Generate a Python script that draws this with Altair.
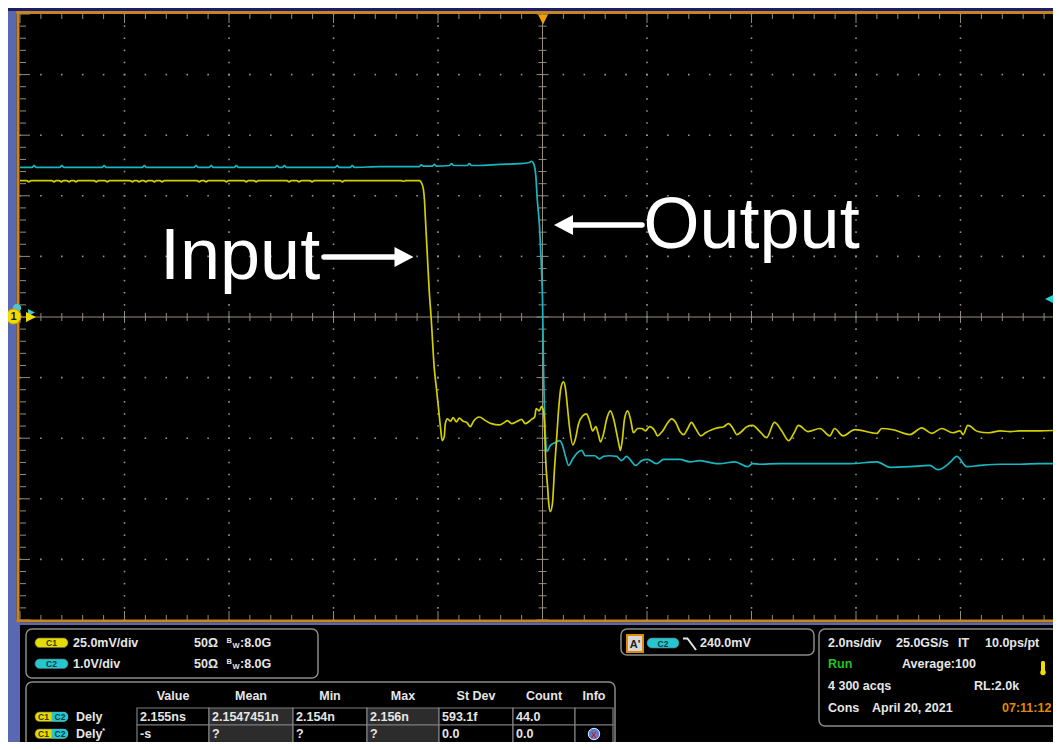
import altair as alt
import numpy as np
import pandas as pd

# ---------------- waveform data: time in ns, level in screen divisions ----------------
input_trace = [
    (-10.00, 2.25),
    (-9.87, 2.25), (-9.83, 2.23), (-9.79, 2.25),
    (-9.39, 2.25), (-9.35, 2.23), (-9.31, 2.25),
    (-9.25, 2.25), (-9.21, 2.23), (-9.17, 2.25),
    (-9.10, 2.25), (-9.06, 2.23), (-9.02, 2.25),
    (-8.97, 2.25), (-8.93, 2.23), (-8.89, 2.25),
    (-8.58, 2.25), (-8.54, 2.23), (-8.50, 2.25),
    (-8.37, 2.25), (-8.33, 2.23), (-8.29, 2.25),
    (-7.89, 2.25), (-7.85, 2.23), (-7.81, 2.25),
    (-7.76, 2.25), (-7.72, 2.23), (-7.68, 2.25),
    (-7.63, 2.25), (-7.59, 2.23), (-7.55, 2.25),
    (-7.47, 2.25), (-7.43, 2.23), (-7.39, 2.25),
    (-7.32, 2.25), (-7.28, 2.23), (-7.24, 2.25),
    (-6.61, 2.25), (-6.57, 2.23), (-6.53, 2.25),
    (-6.48, 2.25), (-6.44, 2.23), (-6.40, 2.25),
    (-6.09, 2.25), (-6.05, 2.23), (-6.01, 2.25),
    (-5.71, 2.25), (-5.67, 2.23), (-5.63, 2.25),
    (-5.52, 2.25), (-5.48, 2.23), (-5.44, 2.25),
    (-4.89, 2.25), (-4.85, 2.23), (-4.81, 2.25),
    (-4.70, 2.25), (-4.66, 2.23), (-4.62, 2.25),
    (-4.45, 2.25), (-4.41, 2.23), (-4.37, 2.25),
    (-3.87, 2.25), (-3.83, 2.23), (-3.79, 2.25),
    (-2.70, 2.25), (-2.66, 2.24), (-2.62, 2.25),
    (-2.36, 2.25), (-2.32, 2.22), (-2.28, 2.11), (-2.26, 1.94), (-2.24, 1.61),
    (-2.22, 1.28), (-2.20, 0.95), (-2.17, 0.46), (-2.13, -0.03), (-2.07, -0.86),
    (-2.03, -1.18), (-1.99, -1.51), (-1.95, -1.84), (-1.92, -2.04), (-1.88, -1.97),
    (-1.86, -1.76), (-1.82, -1.68), (-1.76, -1.72), (-1.71, -1.66), (-1.65, -1.73),
    (-1.59, -1.67), (-1.52, -1.72), (-1.45, -1.74), (-1.38, -1.81), (-1.32, -1.72),
    (-1.21, -1.65), (-1.09, -1.71), (-0.98, -1.76), (-0.82, -1.78), (-0.73, -1.74),
    (-0.67, -1.71), (-0.59, -1.76), (-0.50, -1.73), (-0.40, -1.69), (-0.33, -1.76),
    (-0.21, -1.69), (-0.15, -1.65), (-0.12, -1.51), (-0.06, -1.55), (-0.02, -1.48),
    (0.02, -1.55), (0.04, -1.84), (0.06, -2.34), (0.10, -2.83), (0.12, -3.08),
    (0.15, -3.21), (0.19, -3.08), (0.23, -2.50), (0.27, -2.01), (0.31, -1.51),
    (0.35, -1.18), (0.40, -1.07), (0.44, -1.18), (0.48, -1.51), (0.52, -1.84),
    (0.58, -2.11), (0.63, -2.01), (0.69, -1.76), (0.77, -1.63), (0.84, -1.60),
    (0.90, -1.71), (0.96, -1.88), (1.02, -1.81), (1.07, -1.94), (1.11, -2.06),
    (1.17, -1.92), (1.23, -1.68), (1.30, -1.55), (1.36, -1.68), (1.42, -1.92),
    (1.48, -2.17), (1.49, -2.20), (1.53, -2.01), (1.57, -1.68), (1.63, -1.55),
    (1.69, -1.71), (1.74, -1.91), (1.82, -1.84), (1.90, -1.84), (1.97, -1.88),
    (2.05, -1.81), (2.15, -1.88), (2.20, -1.96), (2.30, -1.88), (2.40, -1.74),
    (2.47, -1.68), (2.55, -1.74), (2.63, -1.89), (2.70, -1.94), (2.78, -1.84),
    (2.85, -1.74), (2.93, -1.84), (3.03, -1.96), (3.12, -1.91), (3.24, -1.86),
    (3.35, -1.83), (3.47, -1.81), (3.56, -1.76), (3.64, -1.83), (3.72, -1.94),
    (3.81, -1.89), (3.91, -1.81), (4.02, -1.79), (4.16, -1.89), (4.29, -1.99),
    (4.44, -1.74), (4.58, -1.88), (4.71, -2.04), (4.81, -1.92), (4.90, -1.79),
    (5.08, -1.89), (5.31, -1.84), (5.50, -1.96), (5.59, -1.84), (5.75, -1.96),
    (5.98, -1.86), (6.40, -1.92), (6.49, -1.84), (6.71, -1.86), (7.03, -1.94),
    (7.26, -1.83), (7.45, -1.92), (7.64, -1.84), (7.85, -1.91), (7.99, -1.88),
    (8.05, -1.94), (8.14, -1.79), (8.33, -1.89), (8.53, -1.91), (8.76, -1.88),
    (8.95, -1.89), (9.14, -1.88), (9.52, -1.88), (10.00, -1.86),
]

output_trace = [
    (-10.00, 2.47),
    (-9.77, 2.47), (-9.73, 2.50), (-9.69, 2.47),
    (-9.24, 2.47), (-9.20, 2.50), (-9.16, 2.47),
    (-8.43, 2.47), (-8.39, 2.50), (-8.35, 2.47),
    (-7.66, 2.47), (-7.62, 2.50), (-7.58, 2.47),
    (-6.67, 2.47), (-6.63, 2.50), (-6.59, 2.47),
    (-6.38, 2.47), (-6.34, 2.50), (-6.30, 2.47),
    (-5.90, 2.47), (-5.86, 2.50), (-5.82, 2.47),
    (-5.12, 2.47), (-5.08, 2.50), (-5.04, 2.47),
    (-4.98, 2.47), (-4.94, 2.50), (-4.90, 2.47),
    (-3.97, 2.47), (-3.93, 2.50), (-3.89, 2.47),
    (-3.68, 2.47), (-3.64, 2.50), (-3.60, 2.47),
    (-3.12, 2.48),
    (-2.36, 2.48), (-2.32, 2.51), (-2.28, 2.49),
    (-2.11, 2.49), (-2.07, 2.52), (-2.03, 2.49),
    (-1.78, 2.50), (-1.74, 2.53), (-1.70, 2.50),
    (-1.44, 2.50), (-1.40, 2.53), (-1.36, 2.50),
    (-1.21, 2.50), (-0.82, 2.52), (-0.44, 2.53), (-0.25, 2.55), (-0.21, 2.57),
    (-0.17, 2.53), (-0.13, 2.35), (-0.10, 1.94), (-0.06, 1.53), (-0.04, 1.20),
    (-0.02, 0.79), (0.00, 0.30), (0.02, -0.86), (0.06, -2.01), (0.08, -2.22),
    (0.15, -2.12), (0.25, -2.07), (0.33, -2.04), (0.38, -2.11), (0.44, -2.30),
    (0.50, -2.45), (0.58, -2.34), (0.67, -2.24), (0.75, -2.20), (0.82, -2.29),
    (1.00, -2.29), (1.09, -2.34), (1.17, -2.30), (1.28, -2.29), (1.42, -2.30),
    (1.51, -2.37), (1.61, -2.30), (1.71, -2.39), (1.78, -2.45), (1.90, -2.37),
    (2.01, -2.35), (2.18, -2.42), (2.32, -2.35), (2.63, -2.35), (2.82, -2.39),
    (3.01, -2.37), (3.20, -2.40), (3.39, -2.42), (3.68, -2.39), (3.93, -2.47),
    (4.02, -2.42), (4.16, -2.43), (4.54, -2.42), (5.31, -2.42), (5.88, -2.42),
    (6.40, -2.39), (6.65, -2.48), (7.03, -2.47), (7.41, -2.45), (7.57, -2.52),
    (7.80, -2.40), (7.93, -2.30), (8.12, -2.47), (8.37, -2.45), (8.76, -2.43),
    (9.14, -2.43), (9.52, -2.42), (10.00, -2.42),
]

# ---------------- readout texts ----------------
channel_scales = ["25.0mV/div", "1.0V/div"]
channel_names = ["C1", "C2"]
channel_imped = ["50\u03a9", "50\u03a9"]
channel_bw = [":8.0G", ":8.0G"]
table_headers = ["Value", "Mean", "Min", "Max", "St Dev", "Count", "Info"]
table_row_names = ["Dely", "Dely"]
table_row1 = ["2.155ns", "2.1547451n", "2.154n", "2.156n", "593.1f", "44.0", ""]
table_row2 = ["-s", "?", "?", "?", "0.0", "0.0", ""]
trigger_level = "240.0mV"
timebase_lines = [
    [("2.0ns/div", 828), ("25.0GS/s", 896), ("IT", 958), ("10.0ps/pt", 985)],
    [("Run", 828), ("Average:100", 902)],
    [("4 300 acqs", 828), ("RL:2.0k", 974)],
    [("Cons", 828), ("April 20, 2021", 872), ("07:11:12", 1002)],
]

# ---------------- styling ----------------
FONT = "Liberation Sans"
WHITE = "#e6e6e6"
BORDER = "#8a8a8a"
YELLOW = "#d2cf00"
CYAN = "#18b6c0"
GRID = "#969696"
RETICLE = "#958d7b"
ORANGE = "#c8841e"
BLUE = "#5a68b2"
NAVY = "#1b1f6a"

W, H = 1045, 734
XS = alt.Scale(domain=[-10, 10], range=[12, 1057], nice=False, zero=False)
YS = alt.Scale(domain=[-5, 5], range=[612, 6], nice=False, zero=False)
PX_PER_NS = 1045 / 20.0
PX_PER_DIV = 606 / 10.0

ONE = pd.DataFrame({"k": [0]})


def P(v):
    return v - 8  # page pixel -> chart pixel


def rect(x1, y1, x2, y2, fill=None, stroke=None, sw=1.0, r=0, **extra):
    kw = {}
    if fill is None:
        kw["fill"] = "#000000"
        kw["fillOpacity"] = 0
    else:
        kw["fill"] = fill
    if stroke is not None:
        kw["stroke"] = stroke
        kw["strokeWidth"] = sw
    else:
        kw["strokeWidth"] = 0
    if r:
        kw["cornerRadius"] = r
    kw.update(extra)
    return alt.Chart(ONE).mark_rect(**kw).encode(
        x=alt.value(P(x1)), x2=alt.value(P(x2)), y=alt.value(P(y1)), y2=alt.value(P(y2)))


def text(s, x, y, size=12.5, color=WHITE, weight="bold", align="left",
         baseline="alphabetic", font=FONT):
    return alt.Chart(ONE).mark_text(
        text=s, fontSize=size, fontWeight=weight, color=color, align=align,
        baseline=baseline, font=font).encode(x=alt.value(P(x)), y=alt.value(P(y)))


def seg(x1, y1, x2, y2, color, w, cap="butt"):
    return alt.Chart(ONE).mark_rule(color=color, strokeWidth=w, strokeCap=cap).encode(
        x=alt.value(P(x1)), x2=alt.value(P(x2)), y=alt.value(P(y1)), y2=alt.value(P(y2)))


def symbol(x, y, shape, size, fill, stroke=None, sw=0.0):
    kw = dict(shape=shape, size=size, filled=True, fill=fill, opacity=1)
    if stroke:
        kw.update(stroke=stroke, strokeWidth=sw)
    else:
        kw.update(strokeWidth=0)
    return alt.Chart(ONE).mark_point(**kw).encode(x=alt.value(P(x)), y=alt.value(P(y)))


def pill(x1, y1, x2, y2, fill, label, label_color):
    cx, cy = (x1 + x2) / 2, (y1 + y2) / 2
    return [rect(x1, y1, x2, y2, fill=fill, stroke="#6a6a6a", sw=0.6, r=(y2 - y1) / 2),
            text(label, cx, cy + 0.5, size=8.5, color=label_color, align="center",
                 baseline="middle")]


# ---------------- graticule ----------------
minor_t = np.round(np.arange(-10, 10.0001, 0.4), 4)
minor_v = np.round(np.arange(-5, 5.0001, 0.2), 4)


def is_major(val, step):
    return abs(val / step - round(val / step)) < 1e-6


dots = []
for t in [-8, -6, -4, -2, 2, 4, 6, 8]:
    for v in minor_v:
        dots.append((t, v))
for v in [-4, -3, -2, -1, 1, 2, 3, 4]:
    for t in minor_t:
        dots.append((t, v))
dots_df = pd.DataFrame(dots, columns=["t", "v"])

segs = [(-10, 10, 0, 0), (0, 0, -5, 5)]
for t in minor_t:
    L = 9 if is_major(t, 2) else 5
    segs.append((t, t, 5, 5 - L / PX_PER_DIV))
    segs.append((t, t, -5, -5 + L / PX_PER_DIV))
    h = (6 if is_major(t, 2) else 4) / PX_PER_DIV
    segs.append((t, t, -h, h))
for v in minor_v:
    L = 10 if is_major(v, 1) else 6
    segs.append((-10, -10 + L / PX_PER_NS, v, v))
    R = 12 if is_major(v, 1) else 9
    segs.append((10, 10 - R / PX_PER_NS, v, v))
    w = (6 if is_major(v, 1) else 4) / PX_PER_NS
    segs.append((-w, w, v, v))
segs_df = pd.DataFrame(segs, columns=["t", "t2", "v", "v2"])

X = alt.X("t:Q", scale=XS, axis=None)
Y = alt.Y("v:Q", scale=YS, axis=None)

layers = []
layers.append(alt.Chart(dots_df).mark_square(size=2.5, color=GRID, opacity=1).encode(x=X, y=Y))
layers.append(alt.Chart(segs_df).mark_rule(color=RETICLE, strokeWidth=1).encode(
    x=X, x2="t2:Q", y=Y, y2="v2:Q"))

# ---------------- traces ----------------
in_df = pd.DataFrame(input_trace, columns=["t", "v"])
out_df = pd.DataFrame(output_trace, columns=["t", "v"])
layers.append(alt.Chart(out_df).mark_line(color=CYAN, strokeWidth=1.7, interpolate="monotone")
              .encode(x=X, y=Y))
layers.append(alt.Chart(in_df).mark_line(color=YELLOW, strokeWidth=1.7, interpolate="monotone")
              .encode(x=X, y=Y))

# ---------------- screen frame ----------------
layers += [
    rect(8, 8, 1061, 11, fill=NAVY),
    rect(16, 11, 1061, 14, fill=ORANGE),
    rect(8, 11, 16.5, 622, fill=BLUE),
    rect(16.5, 11, 19.5, 622, fill=ORANGE),
    rect(16.5, 619.5, 1061, 622.5, fill=ORANGE),
    rect(8, 622.5, 1061, 625, fill=BLUE),
    rect(8, 622, 20, 750, fill=BLUE),
]

# ---------------- markers ----------------
layers += [
    symbol(543, 19.5, "M-1,-1L1,-1L0,1Z", 100, "#f2a100"),
    symbol(17, 308, "circle", 70, "#4cc6cf"),
    symbol(13.5, 316.5, "circle", 227, "#f2dc00", stroke="#d69a00", sw=1),
    text("1", 13.5, 317, size=11, color="#1a1a1a", align="center", baseline="middle"),
    symbol(31.5, 312.5, "M-1,-1L1,0L-1,1Z", 49, "#3cc8d2"),
    symbol(31, 317, "M-1,-1L1,0L-1,1Z", 100, "#f0dc00"),
    symbol(1049, 299, "M1,-1L-1,0L1,1Z", 64, "#2ad0da"),
    seg(1052, 299, 1061, 299, "#2ad0da", 1.5),
]

# ---------------- annotations ----------------
layers += [
    text("Input", 160, 279, size=72, color="#ffffff", weight="normal"),
    seg(324, 257, 397, 257, "#ffffff", 5.5, cap="round"),
    symbol(404, 257, "M-0.95,-1L0.95,0L-0.95,1Z", 400, "#ffffff"),
    text("Output", 643.5, 248, size=72, color="#ffffff", weight="normal"),
    seg(572, 225, 642, 225, "#ffffff", 5.5, cap="round"),
    symbol(563.5, 225, "M0.95,-1L-0.95,0L0.95,1Z", 400, "#ffffff"),
]

# ---------------- readout panel: channels ----------------
layers.append(rect(26, 629, 318, 678, stroke=BORDER, sw=1.5, r=6))
pill_colors = [("#e4dc00", "#3a3800"), ("#26c6cf", "#0a3a40")]
for i, (name, scale, imp, bw) in enumerate(zip(channel_names, channel_scales, channel_imped, channel_bw)):
    base = 647 + 21 * i
    layers += pill(35, base - 9, 68, base + 0.5, pill_colors[i][0], name, pill_colors[i][1])
    layers += [
        text(scale, 73, base),
        text(imp, 194, base),
        text("B", 226.5, base - 4.5, size=7.5),
        text("W", 232.5, base + 1, size=7.5),
        text(bw, 240, base),
    ]

# ---------------- readout panel: measurement table ----------------
col_x = [137, 209, 293, 367, 439, 513, 575, 613]
row_y = [708, 725, 744]
layers.append(rect(26, 682, 615, 760, stroke=BORDER, sw=1.5, r=6))
for j, hdr in enumerate(table_headers):
    layers.append(text(hdr, (col_x[j] + col_x[j + 1]) / 2, 700, align="center"))
for r_i, row in enumerate([table_row1, table_row2]):
    for j, val in enumerate(row):
        fill = "#2c2c2c" if table_headers[j] in ("Mean", "Max") else "#000000"
        layers.append(rect(col_x[j], row_y[r_i], col_x[j + 1], row_y[r_i + 1],
                           fill=fill, stroke="#7e7e7e", sw=1.2))
        if val:
            layers.append(text(val, col_x[j] + 3, row_y[r_i] + 13))
for r_i, nm in enumerate(table_row_names):
    yb = 721 + 17 * r_i
    layers += [
        rect(35, yb - 9, 68, yb + 0.5, fill="#e4dc00", stroke="#6a6a6a", sw=0.6, r=4.5),
        rect(51.5, yb - 9, 68, yb + 0.5, fill="#26c6cf", cornerRadiusTopRight=4.5,
             cornerRadiusBottomRight=4.5),
        text("C1", 43.5, yb - 4, size=8.5, color="#3a3800", align="center", baseline="middle"),
        text("C2", 60, yb - 4, size=8.5, color="#0a3a40", align="center", baseline="middle"),
        text(nm, 76, yb),
    ]
layers += [
    text("*", 102, 733, size=8),
    symbol(594, 734, "circle", 130, "#4f7fd6", stroke="#dfe8ff", sw=1),
    text("X", 594, 734.5, size=8.5, color="#e01818", align="center", baseline="middle"),
]

# ---------------- readout panel: trigger ----------------
layers += [rect(621, 629, 814, 655, stroke=BORDER, sw=1.5, r=6),
           rect(627, 635, 643, 652, fill="#d8d8d8", stroke="#e08a00", sw=2),
           text("A'", 635, 648, size=11, color="#222222", align="center")]
layers += pill(647, 638, 679, 648, "#26c6cf", "C2", "#0a3a40")
layers += [
    seg(683, 638.5, 688, 638.5, WHITE, 2),
    seg(687.5, 638.5, 696, 650, WHITE, 2),
    text(trigger_level, 700, 647),
]

# ---------------- readout panel: timebase ----------------
layers.append(rect(819, 629, 1059, 726, stroke=BORDER, sw=1.5, r=6))
line_base = [647, 668, 690, 712]
for k, items in enumerate(timebase_lines):
    for s, xpos in items:
        col = WHITE
        if s == "Run":
            col = "#22c322"
        elif s == "07:11:12":
            col = "#e08800"
        layers.append(text(s, xpos, line_base[k], color=col))
layers += [
    rect(1041, 661, 1045, 672, fill="#f2dc00", r=1.5),
    symbol(1043, 672.5, "circle", 30, "#f2dc00"),
]

chart = alt.layer(*layers).properties(
    width=W, height=H,
    autosize=alt.AutoSizeParams(type="none"),
    padding=0,
    background="#000000",
).configure_view(stroke=None)

chart.save("out.html", embed_options={"renderer": "svg", "actions": False})
